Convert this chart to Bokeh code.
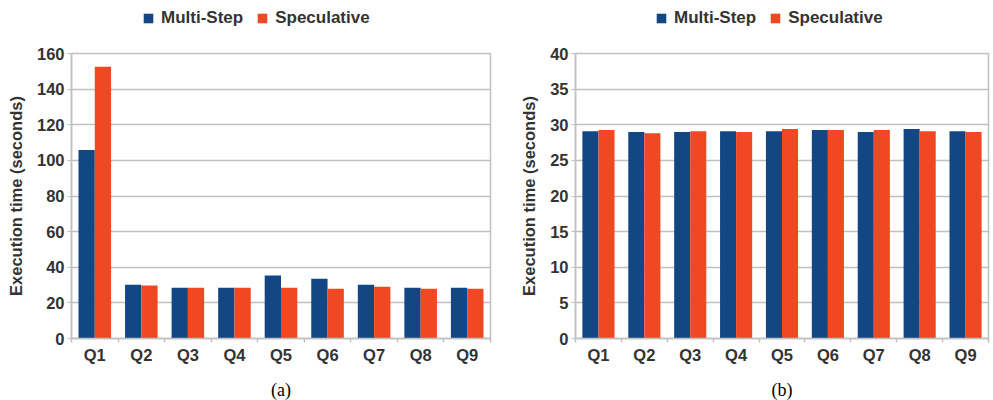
import numpy as np
from bokeh.plotting import figure
from bokeh.layouts import row, column
from bokeh.models import (ColumnDataSource, Range1d, FixedTicker, Legend, LegendItem)
from bokeh.embed import file_html
from bokeh.resources import INLINE

categories = ["Q1", "Q2", "Q3", "Q4", "Q5", "Q6", "Q7", "Q8", "Q9"]
series_names = ["Multi-Step", "Speculative"]

# Panel (a)
a_multi_step = [105.8, 30.2, 28.5, 28.5, 35.3, 33.6, 30.2, 28.5, 28.5]
a_speculative = [152.5, 29.7, 28.5, 28.5, 28.5, 27.9, 29.1, 28.0, 28.0]
a_yticks = [0, 20, 40, 60, 80, 100, 120, 140, 160]

# Panel (b)
b_multi_step = [29.1, 28.97, 29.0, 29.1, 29.1, 29.25, 29.0, 29.4, 29.1]
b_speculative = [29.25, 28.8, 29.1, 29.0, 29.4, 29.25, 29.25, 29.1, 29.0]
b_yticks = [0, 5, 10, 15, 20, 25, 30, 35, 40]

BLUE = "#134784"
ORANGE = "#EF4823"
GRID = "#c0c0c0"
TXT = "#333333"
FONT = "Liberation Sans"
COLORS = [BLUE, ORANGE]

LEG_H = 35


def legend_fig(width, legend_x):
    lf = figure(width=width, height=LEG_H, x_range=Range1d(0, 1), y_range=Range1d(0, 1),
                x_axis_type=None, y_axis_type=None, output_backend="svg",
                toolbar_location=None, min_border=0)
    lf.outline_line_color = None
    lf.xgrid.visible = False
    lf.ygrid.visible = False
    items = []
    for name, col in zip(series_names, COLORS):
        # zero-height placeholder, only used for the legend swatch
        r = lf.vbar(x=[0.5], top=[0], bottom=[0], width=0.1, color=col, line_width=0)
        items.append(LegendItem(label=name, renderers=[r]))
    legend = Legend(items=items, orientation="horizontal", location=(legend_x, 7),
                    glyph_width=12, glyph_height=12, label_standoff=7, spacing=13,
                    padding=0, margin=0, border_line_color=None,
                    background_fill_alpha=0,
                    label_text_font=FONT, label_text_font_style="bold",
                    label_text_font_size="17px", label_text_color=TXT)
    lf.add_layout(legend, "center")
    return lf


def panel(multi, spec, yticks, caption, frame_w, left_border, right_border):
    n = len(categories)
    idx = np.arange(n)
    bw = 0.35
    src = ColumnDataSource(dict(
        xm=idx + 0.5 - bw / 2, xs=idx + 0.5 + bw / 2,
        multi=multi, spec=spec, cat=categories))
    p = figure(frame_width=frame_w, frame_height=285,
               x_range=Range1d(0, n), y_range=Range1d(yticks[0], yticks[-1]),
               output_backend="svg", toolbar_location=None,
               min_border_left=left_border, min_border_right=right_border,
               min_border_top=18, min_border_bottom=60)
    p.vbar(x="xm", top="multi", width=bw, source=src, color=BLUE, line_width=0)
    p.vbar(x="xs", top="spec", width=bw, source=src, color=ORANGE, line_width=0)

    p.outline_line_color = GRID
    p.outline_line_width = 1.5
    p.background_fill_color = "white"
    p.border_fill_color = "white"

    p.xgrid.visible = False
    p.ygrid.grid_line_color = GRID
    p.ygrid.grid_line_width = 1.5
    p.ygrid.ticker = FixedTicker(ticks=yticks)

    # y axis
    p.yaxis.ticker = FixedTicker(ticks=yticks)
    p.yaxis.axis_line_color = GRID
    p.yaxis.axis_line_width = 1.5
    p.yaxis.major_tick_line_color = GRID
    p.yaxis.major_tick_out = 4
    p.yaxis.major_tick_in = 0
    p.yaxis.minor_tick_line_color = None
    p.yaxis.major_label_standoff = 3
    p.yaxis.major_label_text_font = FONT
    p.yaxis.major_label_text_font_style = "bold"
    p.yaxis.major_label_text_font_size = "16.5px"
    p.yaxis.major_label_text_color = TXT
    p.yaxis.axis_label = "Execution time (seconds)"
    p.yaxis.axis_label_text_font = FONT
    p.yaxis.axis_label_text_font_style = "bold"
    p.yaxis.axis_label_text_font_size = "16.5px"
    p.yaxis.axis_label_text_color = TXT
    p.yaxis.axis_label_standoff = 9

    # x axis: labels at centres, small ticks at boundaries
    centers = [i + 0.5 for i in range(n)]
    p.xaxis.ticker = FixedTicker(ticks=centers, minor_ticks=list(range(n + 1)))
    p.xaxis.major_label_overrides = {c: lab for c, lab in zip(centers, categories)}
    p.xaxis.axis_line_color = GRID
    p.xaxis.axis_line_width = 1.5
    p.xaxis.major_tick_line_color = None
    p.xaxis.major_tick_out = 4
    p.xaxis.major_tick_in = 0
    p.xaxis.minor_tick_line_color = GRID
    p.xaxis.minor_tick_line_width = 1.5
    p.xaxis.minor_tick_out = 4
    p.xaxis.minor_tick_in = 0
    p.xaxis.major_label_standoff = 3
    p.xaxis.major_label_text_font = FONT
    p.xaxis.major_label_text_font_style = "bold"
    p.xaxis.major_label_text_font_size = "16.5px"
    p.xaxis.major_label_text_color = TXT
    p.xaxis.axis_label = caption
    p.xaxis.axis_label_text_font = "Liberation Serif"
    p.xaxis.axis_label_text_font_style = "normal"
    p.xaxis.axis_label_text_font_size = "18px"
    p.xaxis.axis_label_text_color = "black"
    p.xaxis.axis_label_standoff = 13
    return p


W1, W2 = 500, 490
pa = panel(a_multi_step, a_speculative, a_yticks, "(a)", 419, 71, 10)
pb = panel(b_multi_step, b_speculative, b_yticks, "(b)", 413, 75, 2)
la = legend_fig(W1, 71)
lb = legend_fig(W2, 80)

layout = row(column(la, pa, spacing=0), column(lb, pb, spacing=0), spacing=0)
open("out.html", "w").write(file_html(layout, INLINE))
